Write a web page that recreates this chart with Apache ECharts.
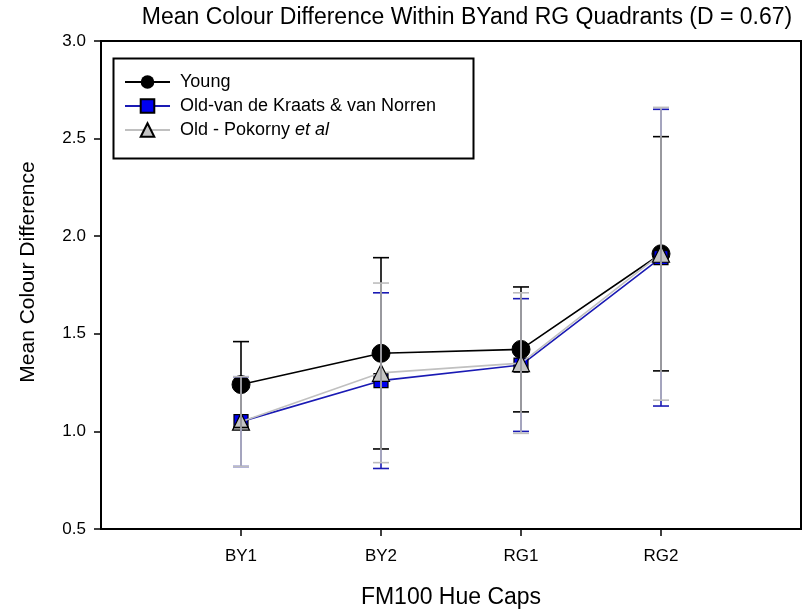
<!DOCTYPE html>
<html><head><meta charset="utf-8">
<script src="https://cdn.jsdelivr.net/npm/echarts@6/dist/echarts.min.js"></script>
<style>html,body{margin:0;padding:0;background:#fff}#c{width:811px;height:614px}</style>
</head><body><div id="c"></div>
<script>
const categories = ['BY1', 'BY2', 'RG1', 'RG2'];
const yTicks = [0.5, 1.0, 1.5, 2.0, 2.5, 3.0];
const youngMean = [1.24, 1.40, 1.42, 1.91];
const youngSD   = [0.22, 0.49, 0.32, 0.60];
const vanMean   = [1.05, 1.26, 1.34, 1.89];
const vanSD     = [0.23, 0.45, 0.34, 0.76];
const pokMean   = [1.05, 1.30, 1.35, 1.91];
const pokSD     = [0.23, 0.46, 0.36, 0.75];

const FONT = 'Liberation Sans';
const chart = echarts.init(document.getElementById('c'), null, {renderer: 'canvas'});

function pts(m) { return m.map((v, i) => [i + 1, v]); }
function bars(m, s) { return m.map((v, i) => [i + 1, +(v - s[i]).toFixed(3), +(v + s[i]).toFixed(3)]); }
function errSeries(m, s, color, z) {
  return {
    type: 'custom', silent: true, z: z,
    data: bars(m, s),
    encode: {x: 0, y: [1, 2]},
    renderItem: function (params, api) {
      const x = api.value(0);
      const lo = api.coord([x, api.value(1)]);
      const hi = api.coord([x, api.value(2)]);
      const w = 8;
      const st = {stroke: color, lineWidth: 1.6};
      return {type: 'group', children: [
        {type: 'line', shape: {x1: lo[0], y1: lo[1], x2: hi[0], y2: hi[1]}, style: st},
        {type: 'line', shape: {x1: lo[0] - w, y1: lo[1], x2: lo[0] + w, y2: lo[1]}, style: st},
        {type: 'line', shape: {x1: hi[0] - w, y1: hi[1], x2: hi[0] + w, y2: hi[1]}, style: st}
      ]};
    }
  };
}

const option = {
  backgroundColor: '#fff',
  animation: false,
  title: {
    text: 'Mean Colour Difference Within BYand RG Quadrants (D = 0.67)',
    left: 462, top: 1, textAlign: 'center',
    textStyle: {fontFamily: FONT, fontSize: 23, fontWeight: 'normal', color: '#000'}
  },
  graphic: [{
    type: 'rect', left: 111, top: 56, z: 100,
    shape: {width: 360, height: 100},
    style: {fill: 'none', stroke: '#000', lineWidth: 2}
  }, {
    type: 'text', x: 28, y: 272, rotation: Math.PI / 2, z: 100,
    style: {text: 'Mean Colour Difference', fontFamily: FONT, fontSize: 21, fill: '#000',
      align: 'center', verticalAlign: 'middle'}
  }],
  legend: {
    orient: 'vertical', left: 119, top: 68, itemWidth: 45, itemHeight: 17, itemGap: 6,
    data: ['Young', 'Old-van de Kraats & van Norren', 'Old - Pokorny et al'],
    formatter: function (n) { return n === 'Old - Pokorny et al' ? '{n|Old - Pokorny }{i|et al}' : '{n|' + n + '}'; },
    textStyle: {fontFamily: FONT, fontSize: 18, color: '#000',
      rich: {n: {fontFamily: FONT, fontSize: 18, color: '#000', padding: [0, 0, 0, 5]},
             i: {fontFamily: FONT, fontSize: 18, color: '#000', fontStyle: 'italic'}}}
  },
  grid: {left: 101, top: 41, right: 10, bottom: 84, show: true, borderColor: '#000', borderWidth: 2, backgroundColor: 'transparent'},
  xAxis: {
    type: 'value', min: 0, max: 5, interval: 1,
    name: 'FM100 Hue Caps', nameLocation: 'middle', nameGap: 57,
    nameTextStyle: {fontFamily: FONT, fontSize: 23, color: '#000'},
    axisLine: {lineStyle: {color: '#000', width: 2}},
    axisTick: {show: true, length: 7, lineStyle: {color: '#000', width: 1.5}, customValues: [1, 2, 3, 4]},
    axisLabel: {fontFamily: FONT, fontSize: 17, color: '#000', margin: 19, customValues: [1, 2, 3, 4],
      formatter: v => categories[v - 1] || ''},
    splitLine: {show: false}
  },
  yAxis: {
    type: 'value', min: yTicks[0], max: yTicks[yTicks.length - 1], interval: 0.5,
    axisLine: {show: true, lineStyle: {color: '#000', width: 2}},
    axisTick: {show: true, length: 7, lineStyle: {color: '#000', width: 1.5}},
    axisLabel: {fontFamily: FONT, fontSize: 17, color: '#000', margin: 15, formatter: v => v.toFixed(1)},
    splitLine: {show: false}
  },
  series: [
    {name: 'Young', type: 'line', data: pts(youngMean), z: 3,
     symbol: 'circle', symbolSize: 18,
     lineStyle: {color: '#000', width: 1.6}, itemStyle: {color: '#000', borderColor: '#000'}},
    {name: 'Old-van de Kraats & van Norren', type: 'line', data: pts(vanMean), z: 4,
     symbol: 'rect', symbolSize: 14,
     lineStyle: {color: '#1a1ab4', width: 1.6}, itemStyle: {color: '#0000f0', borderColor: '#000', borderWidth: 1.2}},
    {name: 'Old - Pokorny et al', type: 'line', data: pts(pokMean), z: 5,
     symbol: 'triangle', symbolSize: 17,
     lineStyle: {color: '#c0c0c0', width: 1.6}, itemStyle: {color: '#c4c4c4', borderColor: '#000', borderWidth: 1.2}},
    errSeries(vanMean, vanSD, '#1a1ab4', 6),
    errSeries(youngMean, youngSD, '#000', 7),
    errSeries(pokMean, pokSD, '#bdbdbd', 8)
  ]
};
chart.setOption(option);
</script></body></html>
